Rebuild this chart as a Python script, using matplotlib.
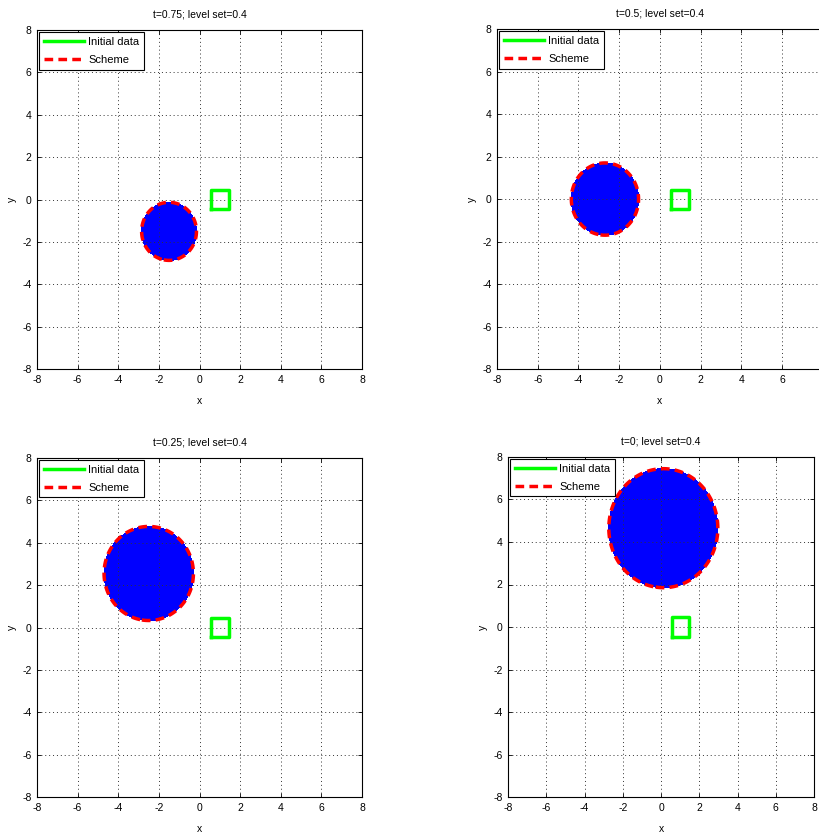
import numpy as np
import matplotlib
matplotlib.use("Agg")
import matplotlib.pyplot as plt
from matplotlib.lines import Line2D

plt.rcParams['font.family'] = ['Liberation Sans', 'DejaVu Sans']
plt.rcParams['font.size'] = 7.5
plt.rcParams['axes.unicode_minus'] = False

# ======================
# DATA
# ======================
titles = ["t=0.75; level set=0.4", "t=0.5; level set=0.4",
          "t=0.25; level set=0.4", "t=0; level set=0.4"]
centers_x = [-1.5, -2.7, -2.5, 0.12]
centers_y = [-1.5, 0.0, 2.55, 4.65]
radii_x = [1.35, 1.65, 2.2, 2.85]
radii_y = [1.37, 1.7, 2.22, 2.8]
level = 0.4

# initial data (green square)
square_x = [0.55, 1.45, 1.45, 0.55, 0.55]
square_y = [-0.45, -0.45, 0.45, 0.45, -0.45]

ticks = [-8, -6, -4, -2, 0, 2, 4, 6, 8]
tick_labels = ["-8", "-6", "-4", "-2", "0", "2", "4", "6", "8"]

# axes positions (left, bottom, width, height) in figure fraction
positions = [
    [0.0452, 0.558, 0.3968, 0.406],
    [0.6068, 0.558, 0.398, 0.4072],
    [0.0452, 0.0455, 0.3968, 0.406],
    [0.6203, 0.0455, 0.3736, 0.4072],
]

# ======================
# GRID FOR LEVEL SET
# ======================
gx = np.linspace(-8, 8, 401)
gy = np.linspace(-8, 8, 401)
X, Y = np.meshgrid(gx, gy)

fig = plt.figure(figsize=(8.19, 8.35), dpi=100)

for i in range(4):
    ax = fig.add_axes(positions[i])
    r = np.sqrt(((X - centers_x[i]) / radii_x[i])**2 + ((Y - centers_y[i]) / radii_y[i])**2)
    phi = level * np.exp(1 - r)  # equals level on the boundary
    ax.contourf(X, Y, phi, levels=[level, phi.max() + 1], colors=['blue'])
    ax.contour(X, Y, phi, levels=[level], colors=['red'], linewidths=2.5,
               linestyles=[(0, (2.5, 1.5))])
    ax.plot(square_x, square_y, color='#00ff00', lw=2.5)

    ax.set_xlim(-8, 8)
    ax.set_ylim(-8, 8)
    ax.set_xticks(ticks)
    ax.set_yticks(ticks)
    ax.set_yticklabels(tick_labels)
    if i == 1:
        # right end of this panel runs off the picture
        ax.set_xticklabels(tick_labels[:-1] + [""])
    else:
        ax.set_xticklabels(tick_labels)
    ax.grid(True, linestyle=(0, (1, 3)), color='0.2', lw=0.7)
    ax.tick_params(direction='in', top=True, right=True, length=3, width=0.6,
                   labelsize=7.5, pad=4)
    for s in ax.spines.values():
        s.set_linewidth(0.8)
    ax.set_xlabel("x", fontsize=7.5, labelpad=8)
    ax.set_ylabel("y", fontsize=7.5, labelpad=4)
    ax.set_title(titles[i], fontsize=7.5, pad=9)

    handles = [Line2D([], [], color='#00ff00', lw=2.5),
               Line2D([], [], color='red', lw=2.5, linestyle=(0, (2.5, 1.5)))]
    leg = ax.legend(handles, ["Initial data", "Scheme"], loc='upper left',
                    fontsize=8, fancybox=False, framealpha=1, edgecolor='black',
                    borderaxespad=0.2, handlelength=3.6, handletextpad=0.4,
                    borderpad=0.4, labelspacing=0.75)
    leg.get_frame().set_linewidth(0.8)

fig.savefig("out.png", dpi=100)
